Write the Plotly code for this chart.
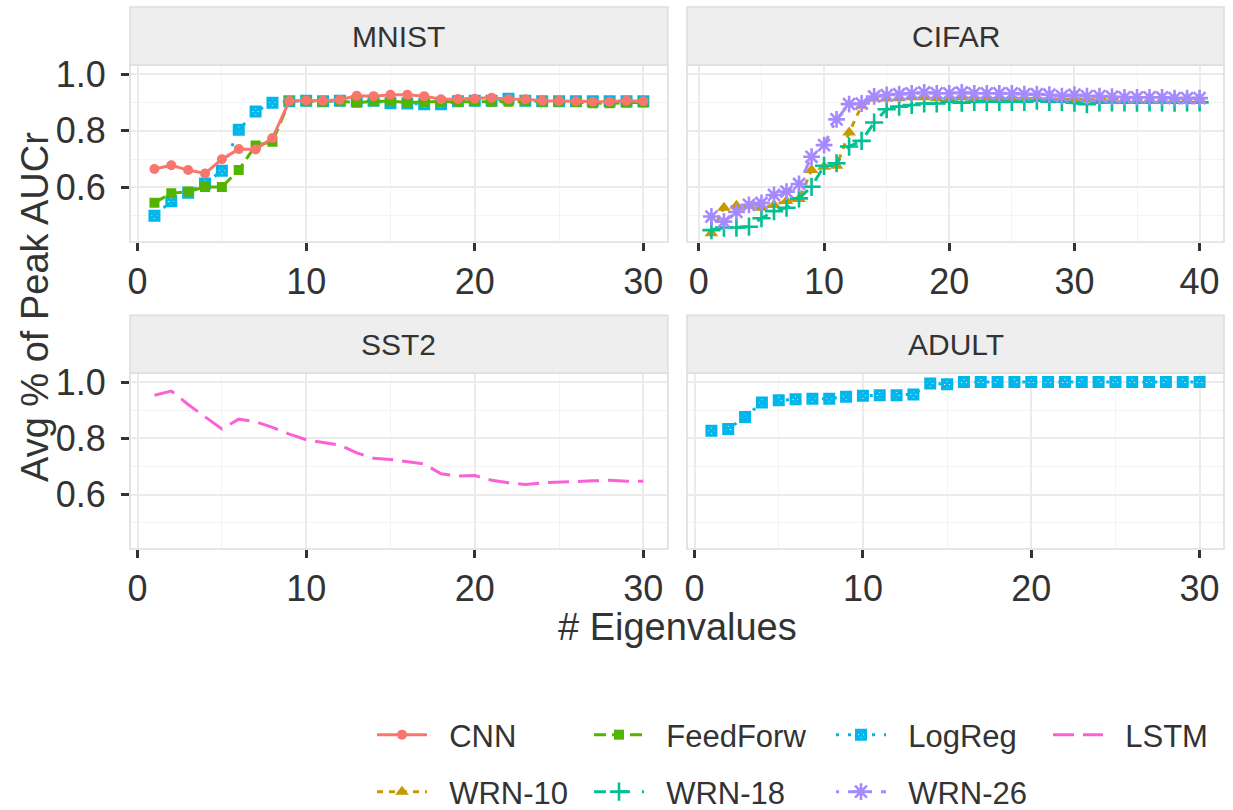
import plotly.graph_objects as go

FONT = "Liberation Sans, Arial, Helvetica, sans-serif"
TEXT = "#333333"

# ---- data -------------------------------------------------------------
eig30 = list(range(1, 31))
eig40 = list(range(1, 41))

mnist_cnn = [0.665, 0.678, 0.661, 0.649, 0.699, 0.735, 0.734, 0.774, 0.905, 0.907,
             0.906, 0.909, 0.923, 0.922, 0.927, 0.927, 0.922, 0.911, 0.912, 0.913,
             0.916, 0.911, 0.911, 0.906, 0.906, 0.904, 0.902, 0.902, 0.906, 0.904]
mnist_feedforw = [0.546, 0.579, 0.585, 0.601, 0.601, 0.661, 0.748, 0.761, 0.904, 0.904,
                  0.902, 0.904, 0.899, 0.904, 0.904, 0.899, 0.902, 0.902, 0.902, 0.904,
                  0.902, 0.902, 0.904, 0.902, 0.902, 0.901, 0.897, 0.897, 0.899, 0.900]
mnist_logreg = [0.500, 0.551, 0.581, 0.614, 0.659, 0.803, 0.868, 0.899, 0.904, 0.906,
                0.904, 0.906, 0.904, 0.906, 0.897, 0.896, 0.893, 0.893, 0.904, 0.906,
                0.906, 0.913, 0.906, 0.904, 0.904, 0.904, 0.904, 0.904, 0.904, 0.904]

cifar_wrn10 = [0.438, 0.528, 0.535, 0.535, 0.528, 0.538, 0.552, 0.559, 0.661, 0.673,
               0.676, 0.794, 0.888, 0.914, 0.914, 0.915, 0.918, 0.918, 0.915, 0.915,
               0.918, 0.915, 0.915, 0.913, 0.915, 0.913, 0.913, 0.912, 0.910, 0.912,
               0.910, 0.910, 0.912, 0.910, 0.910, 0.910, 0.910, 0.910, 0.910, 0.910]
cifar_wrn18 = [0.449, 0.458, 0.458, 0.461, 0.491, 0.516, 0.528, 0.561, 0.602, 0.676,
               0.685, 0.744, 0.764, 0.829, 0.876, 0.885, 0.891, 0.896, 0.896, 0.902,
               0.899, 0.902, 0.902, 0.902, 0.902, 0.902, 0.906, 0.902, 0.902, 0.899,
               0.894, 0.900, 0.900, 0.900, 0.899, 0.900, 0.900, 0.899, 0.900, 0.900]
cifar_wrn26 = [0.497, 0.479, 0.513, 0.538, 0.545, 0.573, 0.585, 0.612, 0.708, 0.749,
               0.840, 0.894, 0.896, 0.921, 0.926, 0.929, 0.932, 0.935, 0.932, 0.932,
               0.935, 0.932, 0.932, 0.932, 0.932, 0.929, 0.929, 0.927, 0.922, 0.927,
               0.922, 0.922, 0.920, 0.918, 0.918, 0.918, 0.918, 0.915, 0.915, 0.915]

sst2_lstm = [0.953, 0.968, 0.920, 0.875, 0.833, 0.868, 0.859, 0.839, 0.815, 0.795,
             0.786, 0.776, 0.748, 0.729, 0.725, 0.718, 0.709, 0.674, 0.666, 0.668,
             0.651, 0.642, 0.636, 0.642, 0.645, 0.647, 0.649, 0.651, 0.648, 0.648]

adult_logreg = [0.827, 0.833, 0.876, 0.927, 0.935, 0.939, 0.941, 0.941, 0.948, 0.951,
                0.953, 0.953, 0.956, 0.995, 0.992, 1.000, 1.000, 1.000, 1.000, 1.000,
                1.000, 1.000, 1.000, 1.000, 1.000, 1.000, 1.000, 1.000, 1.000, 1.000]

panel_titles = ["MNIST", "CIFAR", "SST2", "ADULT"]
y_ticks = [0.6, 0.8, 1.0]
y_tick_text = ["0.6", "0.8", "1.0"]
y_minor = [0.5, 0.7, 0.9]
y_range = [0.407, 1.032]

# ---- per-model styling ------------------------------------------------
STYLE = {
    "CNN":      dict(color="#F8766D", dash="solid",            symbol="circle",          size=10, lw=0),
    "WRN-10":   dict(color="#C49A00", dash="6px,6px",          symbol="triangle-up",     size=12, lw=0),
    "FeedForw": dict(color="#53B400", dash="12px,6px",         symbol="square",          size=10, lw=0),
    "WRN-18":   dict(color="#00C094", dash="12px,12px",        symbol="cross-thin-open", size=13, lw=2.6),
    "LogReg":   dict(color="#00B6EB", dash="3px,9px",          symbol="square-x-open",   size=9,  lw=3),
    "WRN-26":   dict(color="#A58AFF", dash="3px,9px,12px,9px", symbol="asterisk-open",   size=14, lw=2.6),
    "LSTM":     dict(color="#FB61D7", dash="21px,9px",         symbol=None,              size=0,  lw=0),
}

# legend slot: (key-start px, row centre px)
LEGEND_SLOT = {
    "CNN": (377, 735), "FeedForw": (594, 735), "LogReg": (836, 735), "LSTM": (1053, 735),
    "WRN-10": (377, 792), "WRN-18": (594, 792), "WRN-26": (836, 792),
}
LEGEND_ORDER = ["CNN", "FeedForw", "LogReg", "LSTM", "WRN-10", "WRN-18", "WRN-26"]

W, H = 1233, 810
ML, MR, MT, MB = 130, 9, 65, 261
PW, PH = W - ML - MR, H - MT - MB


def px_x(p):
    return (p - ML) / PW


def px_y(p):
    return (H - MB - p) / PH


fig = go.Figure()
seen = set()


def add(name, x, y, panel):
    st = STYLE[name]
    suffix = "" if panel == 1 else str(panel)
    mode = "lines" if st["symbol"] is None else "lines+markers"
    marker = None
    if st["symbol"] is not None:
        marker = dict(symbol=st["symbol"], size=st["size"], color=st["color"],
                      line=dict(color=st["color"], width=st["lw"]))
    show = name not in seen
    seen.add(name)
    idx = LEGEND_ORDER.index(name) + 1
    fig.add_trace(go.Scatter(
        x=x, y=y, name="\u00a0\u00a0" + name, mode=mode,
        line=dict(color=st["color"], width=3, dash=st["dash"]),
        marker=marker,
        xaxis="x" + suffix, yaxis="y" + suffix,
        showlegend=show, legendgroup=name,
        legend="legend" if idx == 1 else "legend%d" % idx,
    ))


add("LogReg", eig30, mnist_logreg, 1)
add("FeedForw", eig30, mnist_feedforw, 1)
add("CNN", eig30, mnist_cnn, 1)
add("WRN-10", eig40, cifar_wrn10, 2)
add("WRN-18", eig40, cifar_wrn18, 2)
add("WRN-26", eig40, cifar_wrn26, 2)
add("LSTM", eig30, sst2_lstm, 3)
add("LogReg", eig30, adult_logreg, 4)

x_left = [0.0, px_x(667.8)]
x_right = [px_x(687), 1.0]
y_top = [px_y(242), 1.0]
y_bot = [0.0, px_y(373)]

grid_major = "#EBEBEB"
grid_minor = "#F3F3F3"

panels = [
    (1, x_left, y_top, [-0.45, 31.45], 10, True),
    (2, x_right, y_top, [-0.95, 41.95], 10, False),
    (3, x_left, y_bot, [-0.45, 31.45], 10, True),
    (4, x_right, y_bot, [-0.45, 31.45], 10, False),
]

layout = dict(
    width=W, height=H,
    margin=dict(l=ML, r=MR, t=MT, b=MB, autoexpand=False),
    paper_bgcolor="white", plot_bgcolor="white",
    font=dict(family=FONT, color=TEXT),
    shapes=[], annotations=[],
)

strip_h = 58 / 177.0
for i, xd, yd, xr, dt, show_y in panels:
    s = "" if i == 1 else str(i)
    layout["xaxis" + s] = dict(
        domain=xd, range=xr, anchor="y" + s, dtick=dt, tick0=0,
        showgrid=True, gridcolor=grid_major, gridwidth=2,
        minor=dict(dtick=dt / 2, tick0=0, showgrid=True, gridcolor=grid_minor, gridwidth=1),
        ticks="outside", ticklen=8, tickwidth=2.5, tickcolor="#333333",
        tickfont=dict(size=36, color=TEXT), zeroline=False, showline=False,
    )
    layout["yaxis" + s] = dict(
        domain=yd, range=y_range, anchor="x" + s,
        tickvals=y_ticks, ticktext=y_tick_text,
        showgrid=True, gridcolor=grid_major, gridwidth=2,
        minor=dict(tickvals=y_minor, showgrid=True, gridcolor=grid_minor, gridwidth=1),
        ticks="outside" if show_y else "", ticklen=8, tickwidth=2.5, tickcolor="#333333",
        showticklabels=show_y, ticklabelstandoff=8,
        tickfont=dict(size=36, color=TEXT), zeroline=False, showline=False,
    )
    # panel border
    layout["shapes"].append(dict(
        type="rect", xref="x%s domain" % s, yref="y%s domain" % s,
        x0=0, x1=1, y0=0, y1=1, line=dict(color="#DEDEDE", width=1.6), layer="above"))
    # facet strip
    layout["shapes"].append(dict(
        type="rect", xref="x%s domain" % s, yref="y%s domain" % s,
        x0=0, x1=1, y0=1, y1=1 + strip_h,
        fillcolor="#EEEEEE", line=dict(color="#DEDEDE", width=1.6), layer="above"))
    layout["annotations"].append(dict(
        text=panel_titles[i - 1], xref="x%s domain" % s, yref="y%s domain" % s,
        x=0.5, y=1 + strip_h / 2, showarrow=False, xanchor="center", yanchor="middle",
        font=dict(size=30, color=TEXT)))

layout["annotations"].append(dict(
    text="# Eigenvalues", xref="paper", yref="paper", x=0.5, y=px_y(627),
    showarrow=False, xanchor="center", yanchor="middle", font=dict(size=38, color=TEXT)))
layout["annotations"].append(dict(
    text="Avg % of Peak AUCr", xref="paper", yref="paper", x=px_x(35), y=px_y(307),
    textangle=-90, showarrow=False, xanchor="center", yanchor="middle",
    font=dict(size=38, color=TEXT)))

for k, name in enumerate(LEGEND_ORDER, start=1):
    kx, ky = LEGEND_SLOT[name]
    key = "legend" if k == 1 else "legend%d" % k
    layout[key] = dict(
        x=px_x(kx - 5), y=px_y(ky), xanchor="left", yanchor="middle",
        xref="paper", yref="paper", orientation="h",
        bgcolor="rgba(0,0,0,0)", borderwidth=0, itemwidth=50,
        font=dict(size=31, color=TEXT, family=FONT),
    )

fig.update_layout(**layout)
fig.write_html("out.html")
